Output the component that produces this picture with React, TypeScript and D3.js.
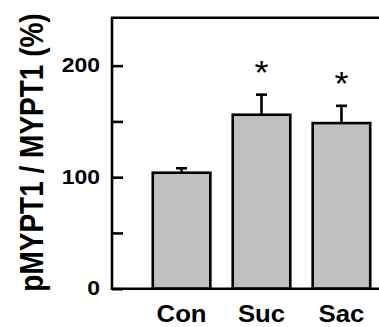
import React, {useRef, useEffect} from "react"
import * as d3 from "d3"

const categories = ["Con", "Suc", "Sac"]
const means = [104, 156, 148.5]
const errors = [4, 18, 15.5]
const marks = ["", "*", "*"]
const yTicks = [0, 50, 100, 150, 200]
const yLabelled = [0, 100, 200]

const W = 379, H = 327

const App = () => {
    const element = useRef<SVGSVGElement>(null)

    useEffect(() => {
        const svg = d3.select(element.current)
        svg.selectAll("*").remove()

        const left = 112, top = 17.7, bottom = 288.7
        const font = "'Liberation Sans', Arial, sans-serif"
        const stretch = 1.18

        const y = d3.scaleLinear().domain([0, 243]).range([bottom, top])
        const x = d3.scaleBand<string>()
            .domain(categories)
            .range([left, 411])
            .paddingInner(0.28)
            .paddingOuter(0.51)

        // bars
        const g = svg.append("g")
        g.selectAll("rect")
            .data(categories)
            .enter()
            .append("rect")
                .attr("x", d => x(d)!)
                .attr("y", (d, i) => y(means[i]))
                .attr("width", x.bandwidth())
                .attr("height", (d, i) => bottom - y(means[i]))
                .attr("fill", "#c0c0c0")
                .attr("stroke", "#000")
                .attr("stroke-width", 2.6)

        // error bars (upper only)
        categories.forEach((c, i) => {
            const cx = x(c)! + x.bandwidth() / 2
            const yt = y(means[i] + errors[i])
            g.append("line")
                .attr("x1", cx).attr("x2", cx)
                .attr("y1", y(means[i])).attr("y2", yt)
                .attr("stroke", "#000").attr("stroke-width", 2.6)
            g.append("line")
                .attr("x1", cx - 5.5).attr("x2", cx + 5.5)
                .attr("y1", yt).attr("y2", yt)
                .attr("stroke", "#000").attr("stroke-width", 2.6)
            if (marks[i]) {
                g.append("text")
                    .attr("transform", `translate(${cx},${yt - 11}) scale(1.1,1)`)
                    .attr("text-anchor", "middle")
                    .attr("font-family", font)
                    .attr("font-size", 33)
                    .text(marks[i])
            }
            g.append("text")
                .attr("transform", `translate(${cx},321.5) scale(1.05,1)`)
                .attr("text-anchor", "middle")
                .attr("font-family", font)
                .attr("font-weight", "bold")
                .attr("font-size", 24.5)
                .text(c)
        })

        // frame: left, top, bottom
        svg.append("path")
            .attr("d", `M${W + 5},${top}H${left}V${bottom}H${W + 5}`)
            .attr("fill", "none")
            .attr("stroke", "#000")
            .attr("stroke-width", 2.6)

        // y axis
        const ax = svg.append("g")
            .attr("transform", `translate(${left},0)`)
            .call(
                d3.axisLeft(y)
                    .tickValues(yTicks)
                    .tickSize(-11)
                    .tickPadding(12)
                    .tickFormat(d => yLabelled.includes(+d) ? String(d) : "")
            )
        ax.select(".domain").remove()
        ax.selectAll(".tick line").attr("stroke", "#000").attr("stroke-width", 2.6)
        ax.selectAll(".tick text")
            .attr("x", -12 / stretch)
            .attr("transform", `scale(${stretch},1)`)
            .attr("fill", "#000")
            .attr("font-family", font)
            .attr("font-weight", "bold")
            .attr("font-size", 19.5)

        // y label
        svg.append("text")
            .attr("transform", `translate(43,152.5) scale(${stretch},1) rotate(-90)`)
            .attr("text-anchor", "middle")
            .attr("font-family", font)
            .attr("font-weight", "bold")
            .attr("font-size", 28)
            .text("pMYPT1 / MYPT1 (%)")
    }, [])

    return (
        <svg ref={element} width={W} height={H}
            style={{position: "absolute", left: 0, top: 0, background: "#fff"}} />
    )
}

export default App
